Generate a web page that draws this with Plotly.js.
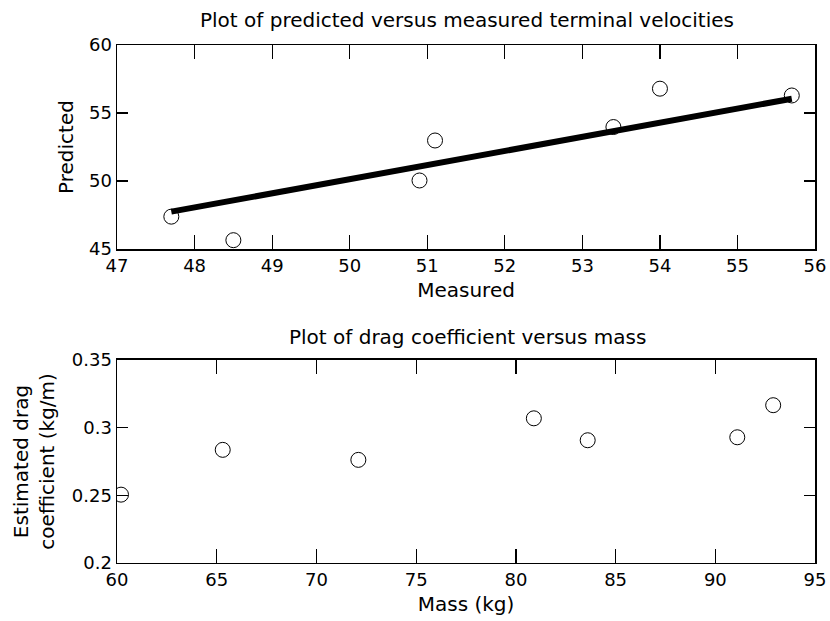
<!DOCTYPE html>
<html>
<head>
<meta charset="utf-8">
<script src="https://cdn.plot.ly/plotly-3.0.1.min.js"></script>
<style>html,body{margin:0;padding:0;background:#fff;}#chart{width:830px;height:621px;}</style>
</head>
<body>
<div id="chart"></div>
<script>
// Top panel: predicted vs measured terminal velocities
var measured = [47.7, 48.5, 50.9, 51.1, 53.4, 54.0, 55.7];
var predicted = [47.38, 45.65, 50.04, 52.98, 53.97, 56.79, 56.29];
var lineX = [47.7, 55.7];
var lineY = [47.75, 56.05];
// Bottom panel: drag coefficient vs mass
var mass = [60.2, 65.3, 72.1, 80.9, 83.6, 91.1, 92.9];
var dragCoef = [0.2505, 0.2836, 0.2762, 0.3069, 0.2907, 0.2929, 0.3166];

var FAM = 'DejaVu Sans, Liberation Sans, Arial, sans-serif';
var font = {family: FAM, color: '#000'};

var marker = {symbol: 'circle-open', size: 15, color: '#000', line: {width: 1, color: '#000'}};
var traces = [
  {x: lineX, y: lineY, mode: 'lines', line: {color: '#000', width: 6}, xaxis: 'x', yaxis: 'y', showlegend: false, hoverinfo: 'skip'},
  {x: measured, y: predicted, mode: 'markers', marker: marker, xaxis: 'x', yaxis: 'y', showlegend: false},
  {x: mass, y: dragCoef, mode: 'markers', marker: marker, xaxis: 'x2', yaxis: 'y2', showlegend: false}
];

function ax(extra) {
  var base = {
    showline: true, linecolor: '#000', linewidth: 1.5, mirror: 'allticks',
    ticks: 'inside', tickwidth: 1.2, tickcolor: '#000',
    showgrid: false, zeroline: false, fixedrange: true,
    tickfont: {family: FAM, size: 18, color: '#000'}
  };
  for (var k in extra) base[k] = extra[k];
  return base;
}
var titleFont = {family: FAM, size: 20, color: '#000'};

var layout = {
  width: 830, height: 621,
  margin: {l: 0, r: 0, t: 0, b: 0},
  paper_bgcolor: '#fff', plot_bgcolor: '#fff',
  font: font,
  showlegend: false,
  xaxis: ax({domain: [0.141, 0.982], range: [47, 56], dtick: 1, tick0: 47, anchor: 'y', ticklen: 14,
    title: {text: 'Measured', font: titleFont, standoff: 8}}),
  yaxis: ax({domain: [0.599, 0.9275], range: [45, 60], dtick: 5, tick0: 45, anchor: 'x', ticklen: 11,
    title: {text: 'Predicted', font: titleFont, standoff: 10}}),
  xaxis2: ax({domain: [0.141, 0.982], range: [60, 95], dtick: 5, tick0: 60, anchor: 'y2', ticklen: 14,
    title: {text: 'Mass (kg)', font: titleFont, standoff: 8}}),
  yaxis2: ax({domain: [0.0934, 0.4203], range: [0.2, 0.35], dtick: 0.05, tick0: 0.2, anchor: 'x2', ticklen: 11,
    title: {text: 'Estimated drag<br>coefficient (kg/m)', font: titleFont, standoff: 12}}),
  annotations: [
    {text: 'Plot of predicted versus measured terminal velocities', xref: 'paper', yref: 'paper',
      x: 0.5627, y: 1 - 20/621, xanchor: 'center', yanchor: 'middle', showarrow: false, font: titleFont},
    {text: 'Plot of drag coefficient versus mass', xref: 'paper', yref: 'paper',
      x: 0.5627, y: 1 - 337/621, xanchor: 'center', yanchor: 'middle', showarrow: false, font: titleFont}
  ]
};

Plotly.newPlot('chart', traces, layout, {displayModeBar: false, staticPlot: true});
</script>
</body>
</html>
